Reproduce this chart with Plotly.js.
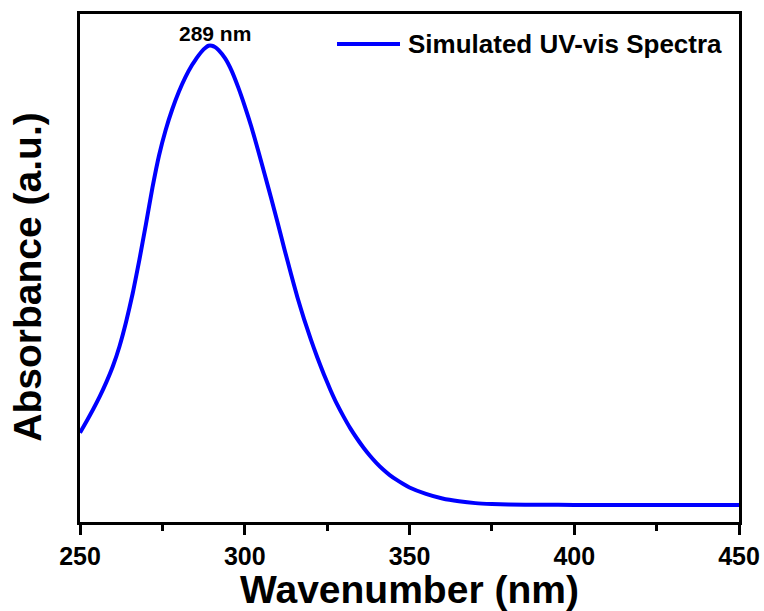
<!DOCTYPE html>
<html>
<head>
<meta charset="utf-8">
<script src="https://cdn.plot.ly/plotly-3.0.1.min.js"></script>
<style>
  html, body { margin: 0; padding: 0; background: #ffffff; }
  #chart { width: 764px; height: 611px; }
</style>
</head>
<body>
<div id="chart"></div>
<script>
// Wavelength (nm)
const wavelength = [250, 252, 254, 256, 258, 260, 262, 264, 266, 268, 270, 272, 274, 276, 278, 280, 282, 284, 285, 286, 287, 288, 289, 290, 291, 292, 294, 296, 298, 300, 302, 304, 306, 308, 310, 312, 314, 316, 318, 320, 322, 324, 326, 328, 330, 332, 334, 336, 338, 340, 342, 344, 346, 348, 350, 355, 360, 365, 370, 375, 380, 390, 400, 425, 450];
// Simulated absorbance (a.u., normalised to the 289 nm peak)
const absorbance = [0.157, 0.182, 0.208, 0.236, 0.267, 0.302, 0.345, 0.398, 0.460, 0.532, 0.610, 0.690, 0.760, 0.815, 0.860, 0.898, 0.930, 0.956, 0.967, 0.977, 0.986, 0.993, 0.998, 0.998, 0.995, 0.989, 0.971, 0.944, 0.908, 0.867, 0.822, 0.772, 0.720, 0.667, 0.613, 0.557, 0.503, 0.451, 0.404, 0.361, 0.321, 0.284, 0.250, 0.219, 0.192, 0.167, 0.145, 0.125, 0.107, 0.091, 0.077, 0.065, 0.055, 0.046, 0.038, 0.024, 0.014, 0.008, 0.004, 0.002, 0.001, 0.0005, 0.0002, 0.0, 0.0];
const seriesName = "Simulated UV-vis Spectra";
const peakLabel = "289 nm";
const peakX = 289;
const peakY = 0.998;
const xTickVals = [250, 300, 350, 400, 450];
const xTickText = ["250", "300", "350", "400", "450"];
const xTitle = "Wavenumber (nm)";
const yTitle = "Absorbance (a.u.)";

const FONT = "Arial, 'Liberation Sans', sans-serif";

const trace = {
  x: wavelength,
  y: absorbance,
  type: "scatter",
  mode: "lines",
  name: seriesName,
  line: { color: "#0000ff", width: 4, shape: "spline", smoothing: 0.5 },
  showlegend: false,
  hoverinfo: "x+y"
};

const layout = {
  width: 764,
  height: 611,
  margin: { l: 80, r: 25, t: 14, b: 89 },
  paper_bgcolor: "#ffffff",
  plot_bgcolor: "#ffffff",
  showlegend: false,
  font: { family: FONT, color: "#000000" },
  xaxis: {
    range: [250, 450],
    tickvals: xTickVals,
    ticktext: xTickText,
    ticks: "outside",
    ticklen: 10,
    tickwidth: 3,
    tickcolor: "#000000",
    minor: { dtick: 25, tick0: 250, ticks: "outside", ticklen: 6, tickwidth: 3, tickcolor: "#000000" },
    showline: true,
    linewidth: 3,
    linecolor: "#000000",
    mirror: true,
    showgrid: false,
    zeroline: false,
    tickfont: { family: FONT, size: 25, color: "#000000", weight: "bold" },
    title: {
      text: xTitle,
      font: { family: FONT, size: 39, color: "#000000", weight: "bold" },
      standoff: 5
    }
  },
  yaxis: {
    range: [-0.037, 1.067],
    showticklabels: false,
    ticks: "",
    showline: true,
    linewidth: 3,
    linecolor: "#000000",
    mirror: true,
    showgrid: false,
    zeroline: false
  },
  shapes: [
    {
      type: "line", xref: "paper", yref: "paper",
      x0: 0.39, x1: 0.4856, y0: 0.941, y1: 0.941,
      line: { color: "#0000ff", width: 4 }
    }
  ],
  annotations: [
    {
      x: peakX, y: peakY, xref: "x", yref: "y",
      text: peakLabel, showarrow: false,
      xanchor: "center", yanchor: "middle",
      xshift: 6, yshift: 12,
      font: { family: FONT, size: 21, color: "#000000", weight: "bold" }
    },
    {
      x: 0.4947, y: 0.941, xref: "paper", yref: "paper",
      text: seriesName, showarrow: false,
      xanchor: "left", yanchor: "middle",
      font: { family: FONT, size: 26, color: "#000000", weight: "bold" }
    },
    {
      x: 0, y: 0.481, xref: "paper", yref: "paper",
      text: yTitle, showarrow: false, textangle: -90,
      xanchor: "center", yanchor: "middle",
      xshift: -52,
      font: { family: FONT, size: 39, color: "#000000", weight: "bold" }
    }
  ]
};

Plotly.newPlot("chart", [trace], layout, { staticPlot: true, displayModeBar: false });
</script>
</body>
</html>
